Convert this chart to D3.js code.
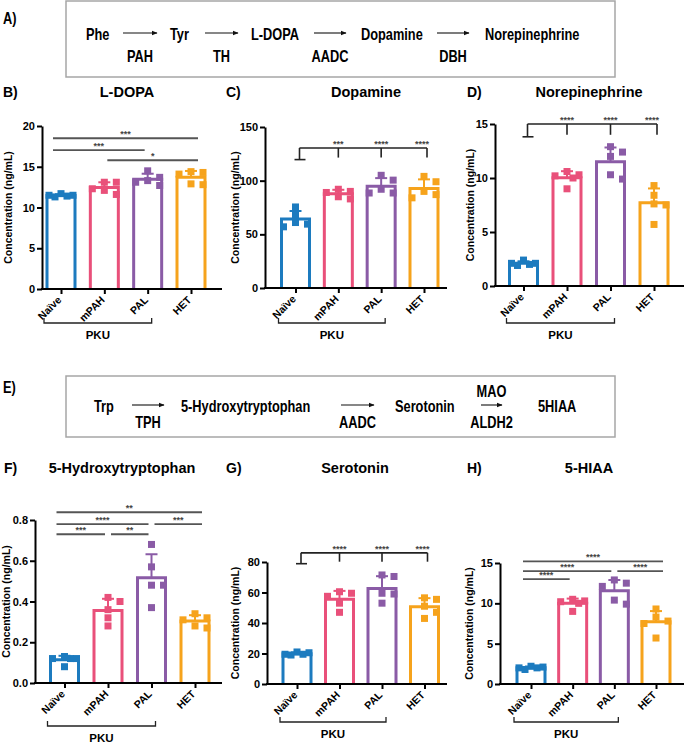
<!DOCTYPE html>
<html>
<head>
<meta charset="utf-8">
<script src="https://cdn.jsdelivr.net/npm/d3@7"></script>
<style>
  body { margin: 0; background: #fff; }
  svg text { font-family: "Liberation Sans", Arial, sans-serif; font-weight: bold; }
  .pathway text { font-size: 16px; }
</style>
</head>
<body>
<div id="chart"></div>
<script>
/* DATA */
const groups = ["Naïve", "mPAH", "PAL", "HET"];
const groupColors = ["#1c7bbf", "#e9507a", "#8a5ba6", "#f6a31c"];

// individual animals, one array per group (Naive, mPAH, PAL, HET)
const ldopaValues = [[11.5, 11.7, 11.4, 11.5, 11.3], [13.1, 11.6, 12.3, 13.1, 12.1], [13.7, 12.7, 13.3, 14.5, 13.1], [14.4, 12.8, 14.1, 14.3, 12.9]];
const dopamineValues = [[57, 75.5, 68, 61, 59.5], [92, 83, 89, 90, 85], [105, 88.5, 100.5, 92, 88.5], [84, 104, 99, 90, 87]];
const norepiValues = [[2.4, 1.9, 2.1, 2.0, 2.1], [10.3, 10.2, 9.0, 10.6, 10.0], [9.9, 12.9, 12.0, 12.4, 10.3], [7.5, 9.3, 8.4, 5.7, 7.6]];
const htpValues = [[0.12, 0.13, 0.08, 0.12, 0.12], [0.42, 0.36, 0.32, 0.28, 0.40], [0.68, 0.57, 0.48, 0.48, 0.37], [0.34, 0.27, 0.31, 0.32, 0.28]];
const serotoninValues = [[19.5, 21, 19.5, 20.5, 19], [60.5, 57.5, 53, 47, 59.5], [71.5, 70.5, 59, 53, 59.5], [43, 47, 55.5, 56.5, 51]];
const hiaaValues = [[2.2, 2.0, 2.1, 2.0, 1.8], [10.3, 10.5, 9.0, 10.2, 10.0], [12.5, 9.9, 12.9, 12.1, 10.4], [7.5, 9.3, 8.3, 5.7, 7.8]];

const ldopaTicks = [0, 5, 10, 15, 20];
const dopamineTicks = [0, 50, 100, 150];
const norepiTicks = [0, 5, 10, 15];
const htpTicks = [0, 0.2, 0.4, 0.6, 0.8];
const serotoninTicks = [0, 20, 40, 60, 80];
const hiaaTicks = [0, 5, 10, 15];

// significance: pairwise lines (level in data units)
const ldopaSig = [
  { from: "Naïve", to: "HET", label: "***", level: 18.5 },
  { from: "Naïve", to: "PAL", label: "***", level: 17.05 },
  { from: "mPAH", to: "HET", label: "*", level: 15.8 }
];
const htpSig = [
  { from: "Naïve", to: "HET", label: "**", level: 0.838 },
  { from: "Naïve", to: "PAL", label: "****", level: 0.78 },
  { from: "PAL", to: "HET", label: "***", level: 0.78 },
  { from: "Naïve", to: "mPAH", label: "***", level: 0.73 },
  { from: "mPAH", to: "PAL", label: "**", level: 0.73 }
];
const hiaaSig = [
  { from: "Naïve", to: "HET", label: "****", level: 15.2 },
  { from: "Naïve", to: "PAL", label: "****", level: 14.0 },
  { from: "PAL", to: "HET", label: "****", level: 14.0 },
  { from: "Naïve", to: "mPAH", label: "****", level: 13.0 }
];
// significance: bracket from Naive to every other group
const dopamineSig = { labels: ["***", "****", "****"], level: 130.5, drop: 121.5 };
const norepiSig = { labels: ["****", "****", "****"], level: 15.0, drop: 14.0 };
const serotoninSig = { labels: ["****", "****", "****"], level: 86, drop: 80.2 };

const catecholSteps = ["Phe", "Tyr", "L-DOPA", "Dopamine", "Norepinephrine"];
const catecholEnzymes = ["PAH", "TH", "AADC", "DBH"];
const serotoninSteps = ["Trp", "5-Hydroxytryptophan", "Serotonin", "5HIAA"];
const serotoninEnzymesBelow = ["TPH", "AADC", "ALDH2"];
const serotoninEnzymesAbove = ["", "", "MAO"];

/* LAYOUT */
const width = 685, height = 745;
const barWidth = 28;
const narrow = 0.8; // horizontal squeeze for the condensed pathway font

const panels = [
  { letter: "B)", title: "L-DOPA", values: ldopaValues, ticks: ldopaTicks, fmt: "d", sig: ldopaSig, kind: "lines",
    x0: 42, x1: 222, c0: 61, c1: 191, y0: 289, y1: 126, letterX: 3, titleX: 127, titleY: 92, labelX: 8, pkuY: 323 },
  { letter: "C)", title: "Dopamine", values: dopamineValues, ticks: dopamineTicks, fmt: "d", sig: dopamineSig, kind: "bracket",
    x0: 265, x1: 447, c0: 295.5, c1: 424, y0: 288, y1: 127, letterX: 226, titleX: 366, titleY: 92, labelX: 235, pkuY: 323 },
  { letter: "D)", title: "Norepinephrine", values: norepiValues, ticks: norepiTicks, fmt: "d", sig: norepiSig, kind: "bracket",
    x0: 495, x1: 684, c0: 523.5, c1: 654, y0: 286, y1: 124, letterX: 467, titleX: 589, titleY: 92, labelX: 470, pkuY: 323 },
  { letter: "F)", title: "5-Hydroxytryptophan", values: htpValues, ticks: htpTicks, fmt: ".1f", sig: htpSig, kind: "lines",
    x0: 35, x1: 222, c0: 64.5, c1: 195, y0: 683, y1: 520, letterX: 4, titleX: 122, titleY: 468, labelX: 6, pkuY: 726 },
  { letter: "G)", title: "Serotonin", values: serotoninValues, ticks: serotoninTicks, fmt: "d", sig: serotoninSig, kind: "bracket",
    x0: 267, x1: 447, c0: 297, c1: 424.5, y0: 684, y1: 562, letterX: 226, titleX: 355, titleY: 468, labelX: 235, pkuY: 722 },
  { letter: "H)", title: "5-HIAA", values: hiaaValues, ticks: hiaaTicks, fmt: "d", sig: hiaaSig, kind: "lines",
    x0: 500, x1: 684, c0: 531, c1: 656, y0: 684, y1: 563, letterX: 467, titleX: 589, titleY: 468, labelX: 469, pkuY: 722 }
];

const svg = d3.select("#chart").append("svg")
  .attr("width", width)
  .attr("height", height);

svg.append("defs").append("marker")
  .attr("id", "arrow")
  .attr("viewBox", "0 0 10 10")
  .attr("refX", 9).attr("refY", 5)
  .attr("markerWidth", 6).attr("markerHeight", 6)
  .attr("markerUnits", "userSpaceOnUse")
  .attr("orient", "auto")
  .append("path").attr("d", "M0,1 L10,5 L0,9 Z").attr("fill", "#111");

/* PATHWAY BOXES */
function narrowText(g, x, y, txt, anchor) {
  g.append("text")
    .attr("transform", `translate(${x},${y}) scale(${narrow},1)`)
    .attr("dy", "0.36em")
    .attr("text-anchor", anchor || "start")
    .text(txt);
}

function pathwayBox(cfg) {
  const g = svg.append("g").attr("class", "pathway");
  narrowText(g, 3, cfg.letterY, cfg.letter);
  g.append("rect")
    .attr("x", 66).attr("y", cfg.top).attr("width", 549).attr("height", cfg.h)
    .attr("fill", "none").attr("stroke", "#a6a6a6").attr("stroke-width", 1.5);
  cfg.steps.forEach((s, i) => narrowText(g, cfg.textX[i], cfg.rowY, s));
  cfg.arrows.forEach((a, i) => {
    g.append("line")
      .attr("x1", a[0]).attr("x2", a[1]).attr("y1", cfg.rowY - 1).attr("y2", cfg.rowY - 1)
      .attr("stroke", "#111").attr("stroke-width", 1.1)
      .attr("marker-end", "url(#arrow)");
    const mid = (a[0] + a[1]) / 2;
    if (cfg.below[i]) narrowText(g, mid, cfg.belowY, cfg.below[i], "middle");
    if (cfg.above && cfg.above[i]) narrowText(g, mid, cfg.aboveY, cfg.above[i], "middle");
  });
}

pathwayBox({
  letter: "A)", letterY: 18, top: 1, h: 76, rowY: 34, belowY: 56,
  steps: catecholSteps, below: catecholEnzymes,
  textX: [86, 170, 251, 361, 485],
  arrows: [[123, 157], [205, 238], [314, 346], [437, 469]]
});

pathwayBox({
  letter: "E)", letterY: 387, top: 376, h: 61, rowY: 406, belowY: 422, aboveY: 391,
  steps: serotoninSteps, below: serotoninEnzymesBelow, above: serotoninEnzymesAbove,
  textX: [94, 181, 395, 538],
  arrows: [[132, 164], [341, 374], [481, 502]]
});

/* BAR PANELS */
// spread the points of one group sideways so they do not sit on each other
function spread(vals, y, cx) {
  const order = d3.range(vals.length).sort((i, j) => vals[j] - vals[i]);
  const slots = [0, 12, -12, 6, -6];
  const placed = [];
  const xs = [];
  order.forEach(i => {
    const py = y(vals[i]);
    let best = 0, bestD = -1;
    for (const s of slots) {
      let ok = true, minD = Infinity;
      placed.forEach(p => {
        const dx = Math.abs(p.s - s), dy = Math.abs(p.py - py);
        if (dx < 6 && dy < 7) ok = false;
        minD = Math.min(minD, Math.hypot(dx, dy));
      });
      if (ok) { best = s; break; }
      if (minD > bestD) { bestD = minD; best = s; }
    }
    placed.push({ s: best, py });
    xs[i] = cx + best;
  });
  return xs;
}

panels.forEach(p => {
  const g = svg.append("g");
  const yScale = d3.scaleLinear().domain([0, d3.max(p.ticks)]).range([p.y0, p.y1]);
  const xScale = d3.scalePoint().domain(groups).range([p.c0, p.c1]);

  g.append("text").attr("x", p.letterX).attr("y", p.titleY).attr("dy", "0.36em")
    .style("font-size", "14px").text(p.letter);
  g.append("text").attr("x", p.titleX).attr("y", p.titleY).attr("dy", "0.36em")
    .attr("text-anchor", "middle").style("font-size", "14.5px").text(p.title);

  g.append("text")
    .attr("transform", `translate(${p.labelX},${(p.y0 + p.y1) / 2}) rotate(-90)`)
    .attr("dy", "0.36em").attr("text-anchor", "middle")
    .style("font-size", "10.5px").text("Concentration (ng/mL)");

  // bars (hollow) with mean + SD
  const stats = p.values.map((v, i) => ({
    group: groups[i], color: groupColors[i], vals: v,
    mean: d3.mean(v), sd: d3.deviation(v)
  }));

  const bars = g.selectAll("g.bar").data(stats).join("g").attr("class", "bar");
  bars.append("path")
    .attr("d", d => {
      const cx = xScale(d.group), l = cx - barWidth / 2, r = cx + barWidth / 2, t = yScale(d.mean);
      return `M${l},${p.y0}V${t}H${r}V${p.y0}`;
    })
    .attr("fill", "#fff").attr("stroke", d => d.color).attr("stroke-width", 3);
  bars.append("line")
    .attr("x1", d => xScale(d.group)).attr("x2", d => xScale(d.group))
    .attr("y1", d => yScale(d.mean)).attr("y2", d => yScale(d.mean + d.sd))
    .attr("stroke", d => d.color).attr("stroke-width", 2);
  bars.append("line")
    .attr("x1", d => xScale(d.group) - 6).attr("x2", d => xScale(d.group) + 6)
    .attr("y1", d => yScale(d.mean + d.sd)).attr("y2", d => yScale(d.mean + d.sd))
    .attr("stroke", d => d.color).attr("stroke-width", 2);

  bars.each(function (d) {
    const xs = spread(d.vals, yScale, xScale(d.group));
    d3.select(this).selectAll("rect.pt").data(d.vals).join("rect").attr("class", "pt")
      .attr("x", (v, i) => xs[i] - 3.5).attr("y", v => yScale(v) - 3.5)
      .attr("width", 7).attr("height", 7)
      .attr("fill", d.color);
  });

  // y axis
  g.append("g")
    .attr("transform", `translate(${p.x0},0)`)
    .call(d3.axisLeft(yScale).tickValues(p.ticks).tickSize(5).tickSizeOuter(0).tickFormat(d3.format(p.fmt)))
    .call(a => a.selectAll("path, line").attr("stroke", "#000").attr("stroke-width", 2))
    .call(a => a.selectAll("text").attr("fill", "#000").style("font-size", "11px").attr("x", -7))
    .attr("font-family", null);

  // x axis
  g.append("line").attr("x1", p.x0 - 1).attr("x2", p.x1).attr("y1", p.y0).attr("y2", p.y0)
    .attr("stroke", "#000").attr("stroke-width", 2);
  const xAxis = g.append("g")
    .attr("transform", `translate(0,${p.y0})`)
    .call(d3.axisBottom(xScale).tickSize(5).tickSizeOuter(0));
  xAxis.select(".domain").remove();
  xAxis.selectAll("line").attr("stroke", "#000").attr("stroke-width", 2);
  xAxis.selectAll("text")
    .attr("y", null).attr("dy", "0.35em")
    .attr("text-anchor", "end")
    .attr("transform", "translate(-2,9) rotate(-45)")
    .attr("fill", "#000").style("font-size", "10.5px");
  xAxis.attr("font-family", null);

  // PKU bracket under Naive..PAL
  const pl = xScale("Naïve") - 17, pr = xScale("PAL") + 4;
  g.append("path").attr("d", `M${pl},${p.pkuY - 5}V${p.pkuY}H${pr}V${p.pkuY - 5}`)
    .attr("fill", "none").attr("stroke", "#222").attr("stroke-width", 1.3);
  g.append("text").attr("x", (pl + pr) / 2).attr("y", p.pkuY + 12).attr("dy", "0.36em")
    .attr("text-anchor", "middle").style("font-size", "11.5px").text("PKU");

  // significance
  const sg = g.append("g");
  if (p.kind === "lines") {
    p.sig.forEach(s => {
      const x1 = s.from === groups[0] ? xScale(s.from) - 8 : xScale(s.from) + 3;
      const x2 = s.to === groups[groups.length - 1] ? xScale(s.to) + 7 : xScale(s.to) - 3;
      const yy = yScale(s.level);
      sg.append("line").attr("x1", x1).attr("x2", x2).attr("y1", yy).attr("y2", yy)
        .attr("stroke", "#555").attr("stroke-width", 1.8);
      sg.append("text").attr("x", (x1 + x2) / 2).attr("y", yy - 1)
        .attr("text-anchor", "middle").attr("fill", "#444").style("font-size", "9px").text(s.label);
    });
  } else {
    const s = p.sig;
    const yl = yScale(s.level), yd = yScale(s.drop);
    const xr = xScale(groups[0]) + 4;
    const xEnd = xScale(groups[groups.length - 1]) + 3;
    sg.append("line").attr("x1", xr).attr("x2", xEnd).attr("y1", yl).attr("y2", yl)
      .attr("stroke", "#222").attr("stroke-width", 1.6);
    sg.append("line").attr("x1", xr).attr("x2", xr).attr("y1", yl).attr("y2", yd + 2)
      .attr("stroke", "#222").attr("stroke-width", 1.6);
    sg.append("line").attr("x1", xr - 5).attr("x2", xr + 6).attr("y1", yd + 2).attr("y2", yd + 2)
      .attr("stroke", "#222").attr("stroke-width", 1.6);
    groups.slice(1).forEach((grp, i) => {
      const xx = i === groups.length - 2 ? xEnd : xScale(grp);
      sg.append("line").attr("x1", xx).attr("x2", xx).attr("y1", yl).attr("y2", yd)
        .attr("stroke", "#222").attr("stroke-width", 1.6);
      sg.append("text").attr("x", xx - (i === groups.length - 2 ? 5 : 0)).attr("y", yl - 1)
        .attr("text-anchor", "middle").attr("fill", "#444").style("font-size", "9px").text(s.labels[i]);
    });
  }
});
</script>
</body>
</html>
